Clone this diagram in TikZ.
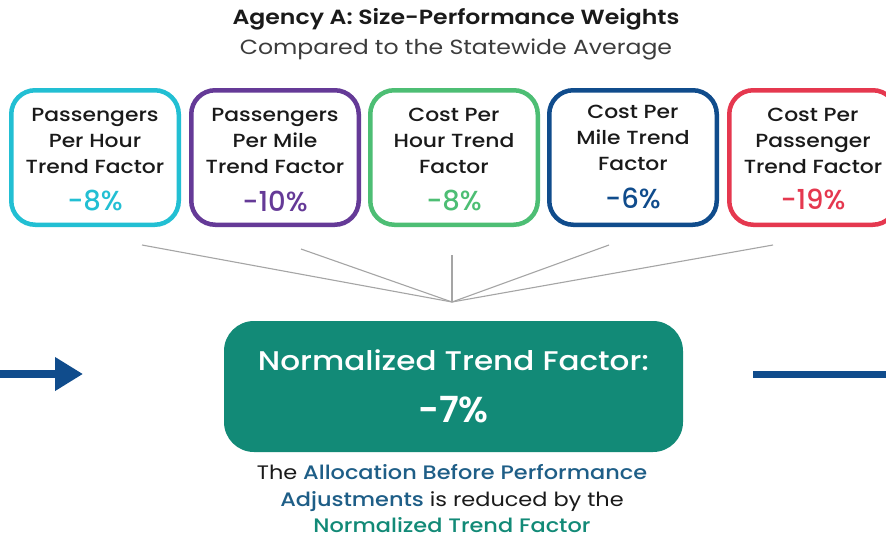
\documentclass[tikz,border=0pt]{standalone}
\usepackage{fontspec}
\setmainfont{Poppins}[BoldFont={Poppins SemiBold}, FakeStretch=1.15]
\newfontfamily\medfont{Poppins Medium}[FakeStretch=1.15]
\newfontfamily\pctfont{Poppins Medium}
\newfontfamily\pctbold{Poppins SemiBold}
\usetikzlibrary{arrows.meta}
\definecolor{ccyan}{HTML}{22BFD3}
\definecolor{cpurple}{HTML}{653A97}
\definecolor{cgreen}{HTML}{4DBE74}
\definecolor{cdblue}{HTML}{104C8C}
\definecolor{cred}{HTML}{E5384F}
\definecolor{cteal}{HTML}{128A77}
\definecolor{ctblue}{HTML}{1E5E87}
\definecolor{cgray}{HTML}{A5A5A5}
\definecolor{ctext}{HTML}{1A1A1A}
\tikzset{
  metricbox/.style={draw=#1, line width=4.5pt, rounded corners=24pt, minimum width=167.5pt, minimum height=134.5pt, inner sep=0pt},
  metriclabel/.style={align=center, inner sep=0pt, font=\medfont\fontsize{19}{26}\selectfont, text=ctext},
  metricpct/.style={inner sep=0pt, font=\pctfont\fontsize{27.5}{30}\selectfont, text=#1},
  spoke/.style={draw=cgray, line width=1.1pt},
  flow/.style={draw=cdblue, line width=8pt},
}
\begin{document}
\begin{tikzpicture}[x=1pt,y=-1pt]
\clip (0,0) rectangle (886,539);
\fill[white] (0,0) rectangle (886,539);
% title
\node[inner sep=0pt, font=\bfseries\fontsize{20.5}{22}\selectfont, text=ctext] (title) at (456,19) {Agency A: Size-Performance Weights};
\node[inner sep=0pt, font=\fontsize{20.5}{22}\selectfont, text=ctext!85] (subtitle) at (456,49) {Compared to the Statewide Average};
% boxes
\node[metricbox=ccyan] (b1) at (95,157.5) {};
\node[metricbox=cpurple] (b2) at (275,157.5) {};
\node[metricbox=cgreen] (b3) at (454,157.5) {};
\node[metricbox=cdblue] (b4) at (633,157.5) {};
\node[metricbox=cred] (b5) at (813,157.5) {};
\node[metriclabel] (l1) at (95,141) {Passengers\\Per Hour\\Trend Factor};
\node[metriclabel] (l2) at (275,141) {Passengers\\Per Mile\\Trend Factor};
\node[metriclabel] (l3) at (454,141) {Cost Per\\Hour Trend\\Factor};
\node[metriclabel] (l4) at (633,138) {Cost Per\\Mile Trend\\Factor};
\node[metriclabel] (l5) at (813,141) {Cost Per\\Passenger\\Trend Factor};
\node[metricpct=ccyan] (p1) at (95,201) {-8\%};
\node[metricpct=cpurple] (p2) at (275,201) {-10\%};
\node[metricpct=cgreen] (p3) at (454,201) {-8\%};
\node[metricpct=cdblue] (p4) at (633,198) {-6\%};
\node[metricpct=cred] (p5) at (813,199) {-19\%};
% spokes
\coordinate (hub) at (452,302);
\coordinate (s1) at (142,245);
\coordinate (s2) at (301,249);
\coordinate (s3) at (452,255);
\coordinate (s4) at (609,245);
\coordinate (s5) at (773,245);
\foreach \s in {s1,s2,s3,s4,s5} \draw[spoke] (\s) -- (hub);
% central box
\node[fill=cteal, rounded corners=30pt, minimum width=459pt, minimum height=131pt, inner sep=0pt] (ntf) at (453.5,386.5) {};
\node[inner sep=0pt, text=white, font=\medfont\fontsize{27}{32}\selectfont] (ntft) at (453.5,360) {Normalized Trend Factor:};
\node[inner sep=0pt, text=white, font=\pctbold\fontsize{36}{40}\selectfont] (ntfv) at (453.5,410) {-7\%};
% flow arrows
\coordinate (inL) at (0,374);
\coordinate (inR) at (83,374);
\draw[flow, -{Triangle[length=28pt,width=32pt]}] (inL) -- (inR);
\coordinate (outL) at (753,374);
\coordinate (outR) at (886,374);
\draw[flow, line width=7pt] (outL) -- (outR);
% caption
\node[align=center, inner sep=0pt, text=ctext, font=\fontsize{19.5}{26.5}\selectfont] (cap) at (452,499)
  {The {\medfont\color{ctblue}Allocation Before Performance}\\
   {\medfont\color{ctblue}Adjustments} is reduced by the\\
   {\medfont\color{cteal}Normalized Trend Factor}};
\end{tikzpicture}
\end{document}
